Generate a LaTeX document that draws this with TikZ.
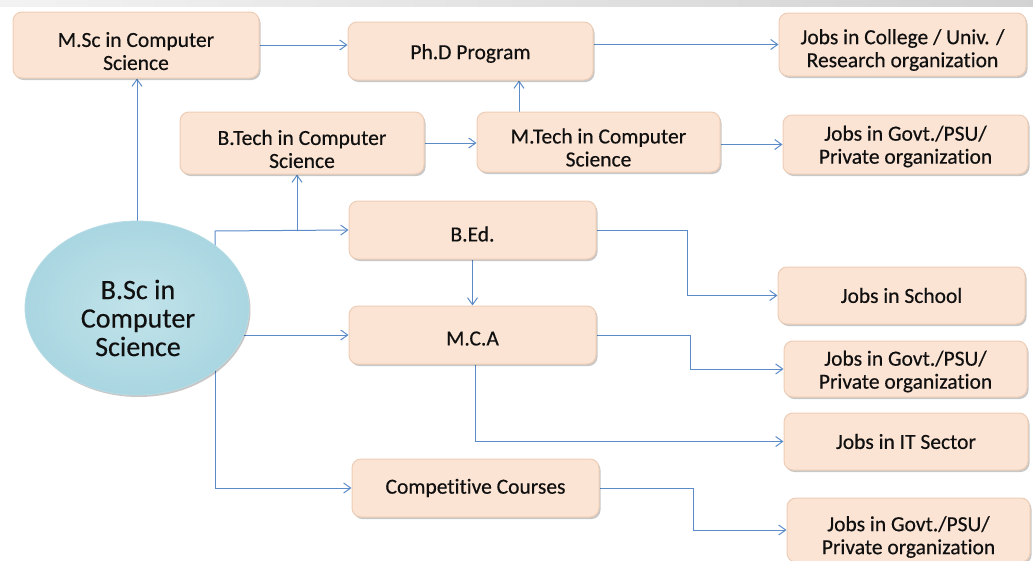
\documentclass[tikz,border=0pt]{standalone}
\usepackage{fontspec}
\setmainfont{Carlito}[Ligatures=NoCommon]
\usetikzlibrary{arrows.meta,shadows,backgrounds,shapes.geometric}
\definecolor{peach}{HTML}{FBE4D4}
\definecolor{peachedge}{HTML}{EDCDB6}
\definecolor{lineblue}{HTML}{5B8CC8}
\definecolor{ellin}{HTML}{C2E3EA}
\definecolor{ellout}{HTML}{A9D6E1}
\definecolor{txt}{HTML}{101010}
\newcommand\myup[1]{\rule{0pt}{#1}}
\begin{document}
\begin{tikzpicture}[x=1pt,y=-1pt,
  box/.style={rounded corners=9pt, fill=peach, draw=peachedge, line width=1pt,
    align=center, inner sep=0pt, text=txt,
    font=\fontsize{21.5}{23}\selectfont\addfontfeature{FakeBold=0.4},
    drop shadow={shadow xshift=1.5pt, shadow yshift=-2pt, opacity=0.22, fill=black}},
  arr/.style={draw=lineblue, line width=1pt, -{Straight Barb[length=7pt,width=10pt,line width=1pt]}}]
\useasboundingbox (0,0) rectangle (1033,560);
% nodes
\node[box, minimum width=246pt, minimum height=66pt] (msc) at (136,45) {\myup{27pt}M.Sc in Computer\\Science};
\node[box, minimum width=245pt, minimum height=58pt] (phd) at (470.5,51) {\myup{20pt}Ph.D Program};
\node[box, minimum width=247pt, minimum height=63pt] (college) at (902.5,44.5) {\myup{26pt}Jobs in College / Univ. /\\Research organization};
\node[box, minimum width=244pt, minimum height=62pt] (btech) at (302,143) {\myup{27pt}B.Tech in Computer\\Science};
\node[box, minimum width=243pt, minimum height=60pt] (mtech) at (598.5,142) {\myup{26pt}M.Tech in Computer\\Science};
\node[box, minimum width=245pt, minimum height=59pt] (govta) at (905.5,144.5) {\myup{19pt}Jobs in Govt./PSU/\\Private organization};
\node[box, minimum width=247pt, minimum height=58pt] (bed) at (472.5,230) {\myup{23pt}B.Ed.};
\node[box, minimum width=247pt, minimum height=58pt] (mca) at (472.5,335) {\myup{21pt}M.C.A};
\node[box, minimum width=247pt, minimum height=57pt] (school) at (901.5,295.5) {Jobs in School};
\node[box, minimum width=243pt, minimum height=56pt] (govtb) at (905.5,369) {\myup{20pt}Jobs in Govt./PSU/\\Private organization};
\node[box, minimum width=244pt, minimum height=57pt] (it) at (906,441.5) {Jobs in IT Sector};
\node[box, minimum width=243pt, minimum height=64pt] (govtc) at (908.5,530) {\myup{29pt}Jobs in Govt./PSU/\\Private organization};
\node[box, minimum width=247pt, minimum height=58pt] (comp) at (475.5,488) {Competitive Courses};
\node[ellipse, minimum width=224pt, minimum height=174pt, inner color=ellin, outer color=ellout,
  draw=ellout!85!white, line width=0.8pt,
  drop shadow={shadow xshift=1.5pt, shadow yshift=-2pt, opacity=0.22, fill=black}] (bsc) at (137,308) {};
\node[align=center, text=txt, font=\fontsize{28}{28.5}\selectfont\addfontfeature{FakeBold=0.4}] (bsctext) at (138,318) {B.Sc in\\Computer\\Science};
\coordinate (ja) at (215,231);
\coordinate (jb) at (297,231);
\coordinate (jc) at (215,488);
% connectors
\begin{scope}[on background layer]
\shade[left color=gray!10, right color=gray!35] (0,0) rectangle (1033,6);
\draw[arr] (msc.east) -- (msc.east -| phd.west);
\draw[arr] (college.west -| phd.east) -- (college.west);
\draw[arr] (bsc.center |- msc.south) ++(0,150) -- (bsc.center |- msc.south);
\draw[arr] (btech.east) -- (btech.east -| mtech.west);
\draw[arr] ([xshift=-79.5pt]mtech.north) -- ([xshift=-79.5pt]mtech.north |- phd.south);
\draw[arr] (mtech.east |- govta.west) -- (govta.west);
\draw[arr] (bsc.center -| ja) -- (ja) -- (bed.west);
\draw[arr] (jb) -- (jb |- btech.south);
\draw[arr] (bed.east) -- ++(91,0) |- (school.west);
\draw[arr] (bed.south) -- (mca.north);
\draw[arr] (bsc.center |- mca.west) -- (mca.west);
\draw[arr] (mca.east) -- ++(94,0) |- (govtb.west);
\draw[arr] ([xshift=2.5pt]mca.south) |- (it.west);
\draw[arr] (bsc.center -| jc) -- (jc) -- (comp.west);
\draw[arr] (comp.east) -- ++(94,0) |- (govtc.west);
\end{scope}
\end{tikzpicture}
\end{document}
